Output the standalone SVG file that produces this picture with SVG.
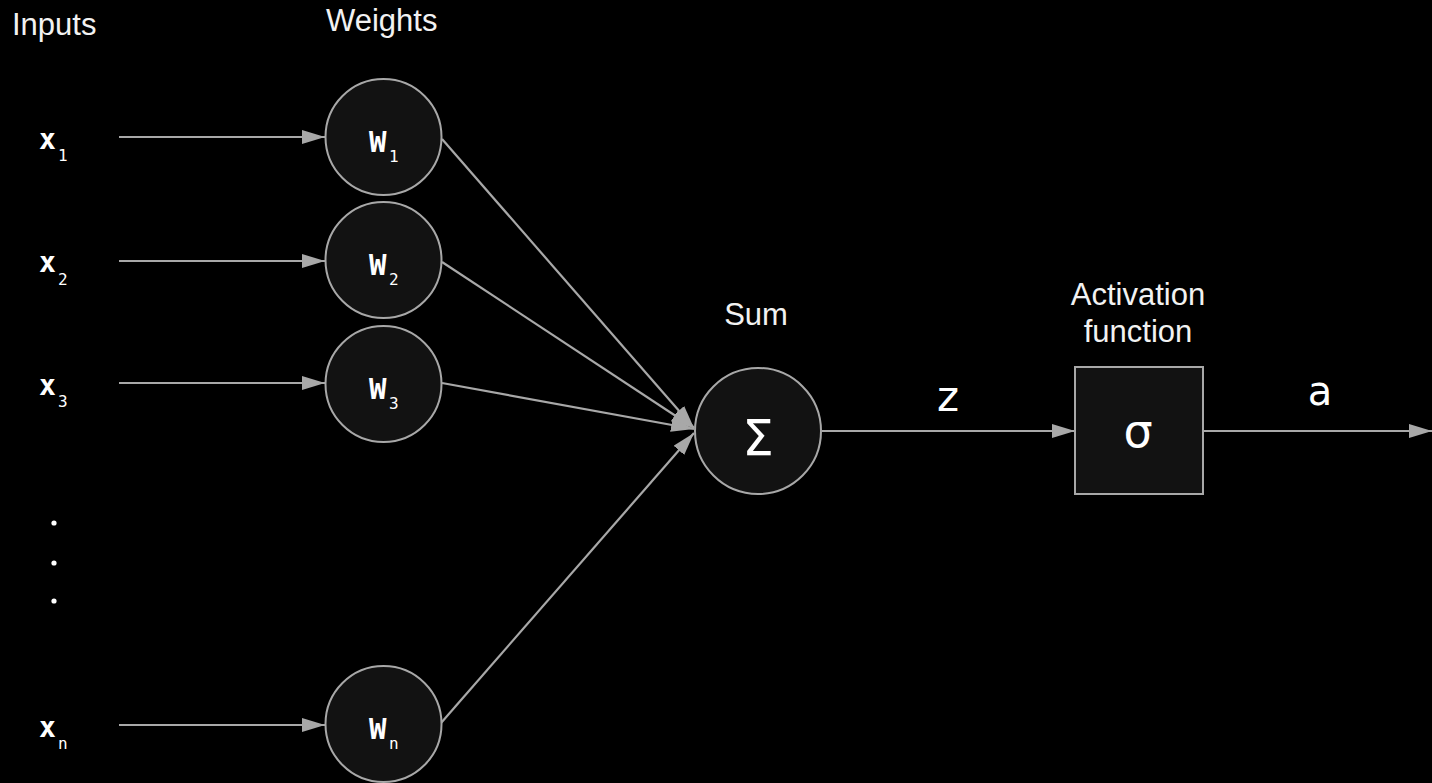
<svg xmlns="http://www.w3.org/2000/svg" width="1432" height="783" viewBox="0 0 1432 783">
<defs>
<marker id="ah" markerWidth="24" markerHeight="14" refX="23" refY="7" orient="auto" markerUnits="userSpaceOnUse">
<path d="M0,0 L23,7 L0,14 z" fill="#a8a8a8"/>
</marker>
<style>
.hdr{font-family:"Liberation Sans",Arial,sans-serif;font-size:31px;fill:#f2f2f2}
.var{font-family:"DejaVu Sans Mono",monospace;fill:#ffffff}
.sym{font-family:"DejaVu Sans",sans-serif;fill:#ffffff}
.node{fill:#121212;stroke:#a8a8a8;stroke-width:2}
.edge{stroke:#a8a8a8;stroke-width:2.2;fill:none;marker-end:url(#ah)}
.xm{font-size:28px;font-weight:bold}
.sub{font-size:16px}
.wm{font-size:29px;font-weight:bold}
</style>
</defs>
<rect width="1432" height="783" fill="#000"/>

<g id="headers">
<text class="hdr" x="12" y="35">Inputs</text>
<text class="hdr" x="326" y="31">Weights</text>
</g>

<g id="inputs">
<g id="x1"><text class="var xm" x="39" y="149">x</text><text class="var sub" x="58" y="161">1</text></g>
<g id="x2"><text class="var xm" x="39" y="272">x</text><text class="var sub" x="58" y="285">2</text></g>
<g id="x3"><text class="var xm" x="39" y="395">x</text><text class="var sub" x="58" y="407">3</text></g>
<g id="dots" fill="#fff"><circle cx="54" cy="523" r="2.6"/><circle cx="54" cy="563" r="2.6"/><circle cx="54" cy="601" r="2.6"/></g>
<g id="xn"><text class="var xm" x="39" y="737">x</text><text class="var sub" x="58" y="749">n</text></g>
</g>

<g id="connectors">
<line class="edge" x1="119" y1="137" x2="325" y2="137"/>
<line class="edge" x1="119" y1="261" x2="325" y2="261"/>
<line class="edge" x1="119" y1="383" x2="325" y2="383"/>
<line class="edge" x1="119" y1="725" x2="325" y2="725"/>
<line class="edge" x1="442" y1="139" x2="694" y2="428"/>
<line class="edge" x1="442" y1="262" x2="694" y2="428"/>
<line class="edge" x1="442" y1="383" x2="694" y2="429"/>
<line class="edge" x1="441" y1="723" x2="694" y2="433"/>
<line class="edge" x1="822" y1="431" x2="1075" y2="431"/>
<line class="edge" x1="1203" y1="431" x2="1432" y2="431"/>
</g>

<g id="w1"><circle class="node" cx="383.5" cy="137" r="58"/><text class="var wm" x="369" y="152">W</text><text class="var sub" x="389" y="162">1</text></g>
<g id="w2"><circle class="node" cx="383.5" cy="260" r="58"/><text class="var wm" x="369" y="275">W</text><text class="var sub" x="389" y="285">2</text></g>
<g id="w3"><circle class="node" cx="383.5" cy="384" r="58"/><text class="var wm" x="369" y="399">W</text><text class="var sub" x="389" y="409">3</text></g>
<g id="wn"><circle class="node" cx="383.5" cy="724" r="58"/><text class="var wm" x="369" y="739">W</text><text class="var sub" x="389" y="749">n</text></g>

<g id="sum">
<text class="hdr" x="756" y="325" text-anchor="middle">Sum</text>
<circle class="node" cx="758" cy="431" r="63"/>
<text class="sym" x="758" y="455" font-size="50" text-anchor="middle">Σ</text>
</g>

<g id="z-label"><text class="sym" x="948" y="411" font-size="42" text-anchor="middle">z</text></g>

<g id="activation">
<text class="hdr" x="1138" y="305" text-anchor="middle">Activation</text>
<text class="hdr" x="1138" y="342" text-anchor="middle">function</text>
<rect class="node" x="1075" y="367" width="128" height="127"/>
<text class="sym" x="1138" y="447" font-size="46" text-anchor="middle">σ</text>
</g>

<g id="a-label"><text class="sym" x="1320" y="405" font-size="40" text-anchor="middle">a</text></g>
</svg>
